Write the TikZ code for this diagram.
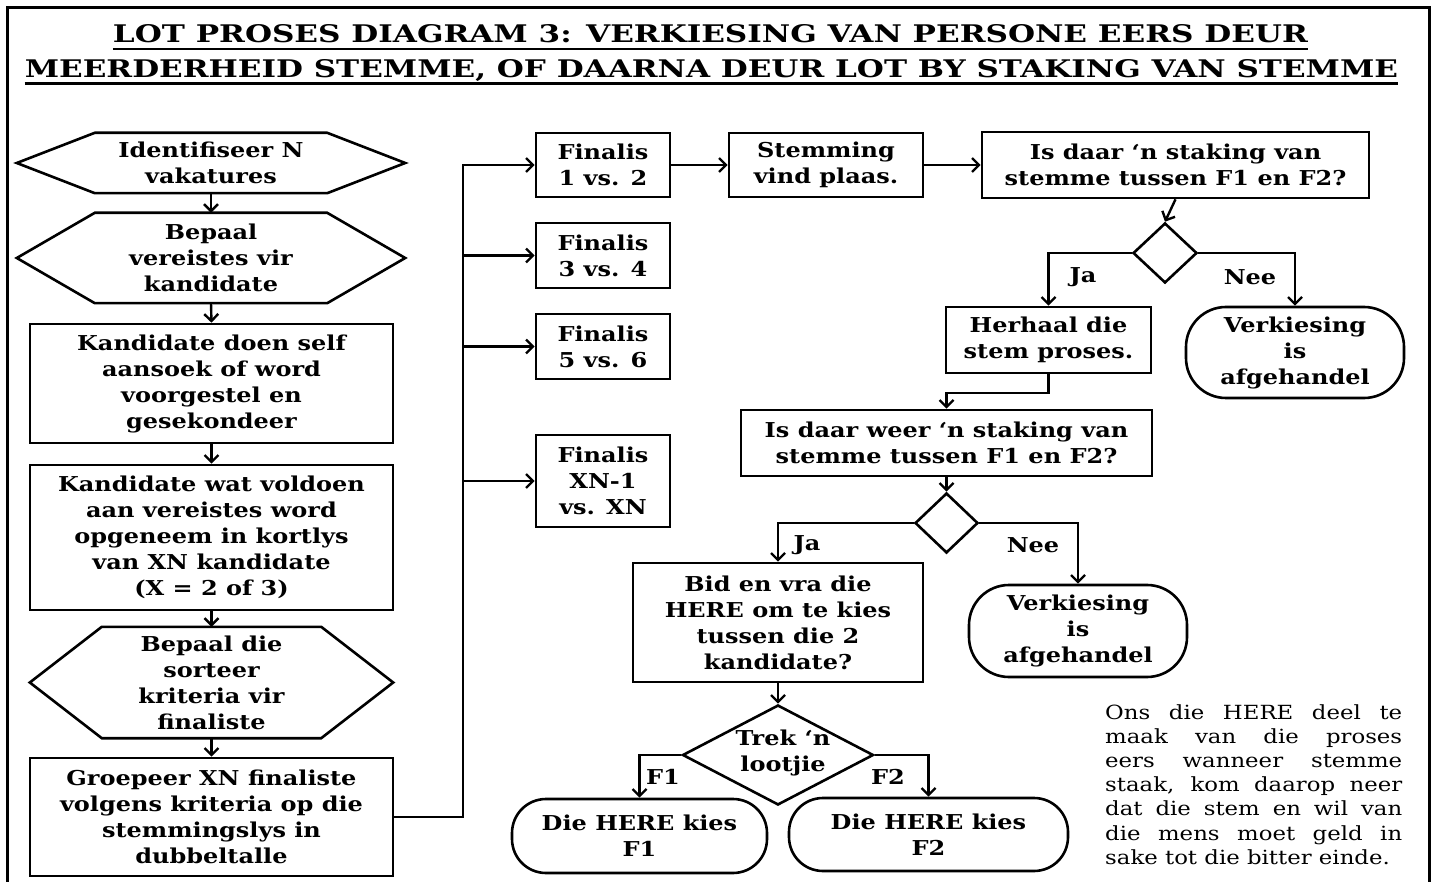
\documentclass[tikz,border=0pt]{standalone}
\usepackage{graphicx}
\usepackage{fontspec}
\setmainfont{DejaVu Serif}[FakeStretch=1.17]
\newfontfamily\titlefont{DejaVu Serif}
\usetikzlibrary{arrows.meta,shapes.geometric}
\newcommand{\myhex}[2]{\draw[line width=2.6pt,line join=miter] (#1.west) -- ([xshift=#2]#1.north west) -- ([xshift=-#2]#1.north east) -- (#1.east) -- ([xshift=-#2]#1.south east) -- ([xshift=#2]#1.south west) -- cycle;}
\begin{document}
\begin{tikzpicture}[x=1pt,y=-1pt,
  every node/.style={font=\fontsize{20.5}{26}\selectfont\bfseries},
  box/.style={draw, line width=2.6pt, align=center, inner sep=0pt},
  plain/.style={align=center, inner sep=0pt},
  term/.style={draw, line width=2.6pt, align=center, inner sep=0pt},
  dia/.style={draw, diamond, line width=2.6pt, inner sep=0pt},
  arr/.style={line width=2.4pt, -{Straight Barb[length=7pt,width=14pt]}},
  lbl/.style={inner sep=0pt}]
\useasboundingbox (0,0) rectangle (1438,882);
% frame
\draw[line width=3pt] (7,900) -- (7,8) -- (1429,8) -- (1429,900);
% title
\node[anchor=base, inner sep=0pt, font=\titlefont\bfseries] (title1) at (710.5,43) {\resizebox{1195pt}{18pt}{LOT PROSES DIAGRAM 3: VERKIESING VAN PERSONE EERS DEUR}};
\node[anchor=base, inner sep=0pt, font=\titlefont\bfseries] (title2) at (711.5,78) {\resizebox{1373pt}{18pt}{MEERDERHEID STEMME, OF DAARNA DEUR LOT BY STAKING VAN STEMME}};
\draw[line width=2.4pt] ([yshift=-6pt]title1.base west) -- ([yshift=-6pt]title1.base east);
\draw[line width=2.4pt] ([yshift=-5.5pt]title2.base west) -- ([yshift=-5.5pt]title2.base east);

% left column
\node[plain, minimum width=388pt, minimum height=60pt] (h1) at (211,163) {Identifiseer N\\vakatures};
\myhex{h1}{78pt}
\node[plain, minimum width=388pt, minimum height=90pt] (h2) at (211,258) {Bepaal\\vereistes vir\\kandidate};
\myhex{h2}{78pt}
\node[box, minimum width=363pt, minimum height=119pt] (b3) at (211.5,383.5) {Kandidate doen self\\aansoek of word\\voorgestel en\\gesekondeer};
\node[box, minimum width=363pt, minimum height=145pt] (b4) at (211.5,537.5) {Kandidate wat voldoen\\aan vereistes word\\opgeneem in kortlys\\van XN kandidate\\(X = 2 of 3)};
\node[plain, minimum width=363pt, minimum height=111pt] (h5) at (211.5,682.5) {Bepaal die\\sorteer\\kriteria vir\\finaliste};
\myhex{h5}{72pt}
\node[box, minimum width=363pt, minimum height=118pt] (b6) at (211.5,817) {Groepeer XN finaliste\\volgens kriteria op die\\stemmingslys in\\dubbeltalle};

\draw[arr] (h1.south) -- (h2.north);
\draw[arr] (h2.south) -- (b3.north);
\draw[arr] (b3.south) -- (b4.north);
\draw[arr] (b4.south) -- (h5.north);
\draw[arr] (h5.south) -- (b6.north);

% finalists
\node[box, minimum width=134pt, minimum height=64pt] (f1) at (603,165) {Finalis\\1 vs. 2};
\node[box, minimum width=134pt, minimum height=65pt] (f2) at (603,255.5) {Finalis\\3 vs. 4};
\node[box, minimum width=134pt, minimum height=65pt] (f3) at (603,346.5) {Finalis\\5 vs. 6};
\node[box, minimum width=134pt, minimum height=92pt] (f4) at (603,481) {Finalis\\XN-1\\vs. XN};

\draw[arr] (b6.east) -| ([xshift=-72pt]f1.west) -- (f1.west);
\draw[arr] ([xshift=-72pt]f2.west) -- (f2.west);
\draw[arr] ([xshift=-72pt]f3.west) -- (f3.west);
\draw[arr] ([xshift=-72pt]f4.west) -- (f4.west);

% voting
\node[box, minimum width=194pt, minimum height=64pt] (stem) at (826,165) {Stemming\\vind plaas.};
\node[box, minimum width=387pt, minimum height=66pt] (isdaar) at (1175.5,165) {Is daar ‘n staking van\\stemme tussen F1 en F2?};
\draw[arr] (f1.east) -- (stem.west);
\draw[arr] (stem.east) -- (isdaar.west);

\node[dia, minimum width=64pt, minimum height=60pt] (d1) at (1165,253) {};
\draw[arr] (isdaar.south) -- (d1.north);

\node[box, minimum width=205pt, minimum height=66pt] (herhaal) at (1048.5,340) {Herhaal die\\stem proses.};
\node[term, rounded corners=40pt, minimum width=218pt, minimum height=91pt] (verk1) at (1295,352.5) {Verkiesing\\is\\afgehandel};
\draw[arr] (d1.west) -| (herhaal.north);
\draw[arr] (d1.east) -| (verk1.north);
\node[lbl] (ja1) at (1083,277) {Ja};
\node[lbl] (nee1) at (1250,277) {Nee};

\node[box, minimum width=411pt, minimum height=66pt] (isweer) at (946.5,443) {Is daar weer ‘n staking van\\stemme tussen F1 en F2?};
\draw[arr] (herhaal.south) -- ++(0,19) -| (isweer.north);

\node[dia, minimum width=63pt, minimum height=60pt] (d2) at (946.5,523) {};
\draw[arr] (isweer.south) -- (d2.north);

\node[box, minimum width=290pt, minimum height=119pt] (bid) at (778,622.5) {Bid en vra die\\HERE om te kies\\tussen die 2\\kandidate?};
\node[term, rounded corners=40pt, minimum width=218pt, minimum height=92pt] (verk2) at (1078,631) {Verkiesing\\is\\afgehandel};
\draw[arr] (d2.west) -| (bid.north);
\draw[arr] (d2.east) -| (verk2.north);
\node[lbl] (ja2) at (807,545) {Ja};
\node[lbl] (nee2) at (1033,545) {Nee};

\node[dia, minimum width=191pt, minimum height=100pt] (d3) at (778,755) {};
\node[plain] (lot) at (783,753) {Trek ‘n\\lootjie};
\draw[arr] (bid.south) -- (d3.north);

\node[term, rounded corners=34pt, minimum width=255pt, minimum height=74pt] (k1) at (639.5,836) {Die HERE kies\\F1};
\node[term, rounded corners=34pt, minimum width=279pt, minimum height=73pt] (k2) at (928.5,834.5) {Die HERE kies\\F2};
\draw[arr] (d3.west) -| (k1.north);
\draw[arr] (d3.east) -| (k2.north);
\node[lbl] (lf1) at (663,777) {F1};
\node[lbl] (lf2) at (888,777) {F2};

% note
\node[anchor=north west, inner sep=0pt, align=left, font=\fontsize{19.5}{24.2}\selectfont] (note) at (1105,704) {%
\makebox[297pt][s]{Ons die HERE deel te}\\
\makebox[297pt][s]{maak van die proses}\\
\makebox[297pt][s]{eers wanneer stemme}\\
\makebox[297pt][s]{staak, kom daarop neer}\\
\makebox[297pt][s]{dat die stem en wil van}\\
\makebox[297pt][s]{die mens moet geld in}\\
sake tot die bitter einde.};
\end{tikzpicture}
\end{document}
